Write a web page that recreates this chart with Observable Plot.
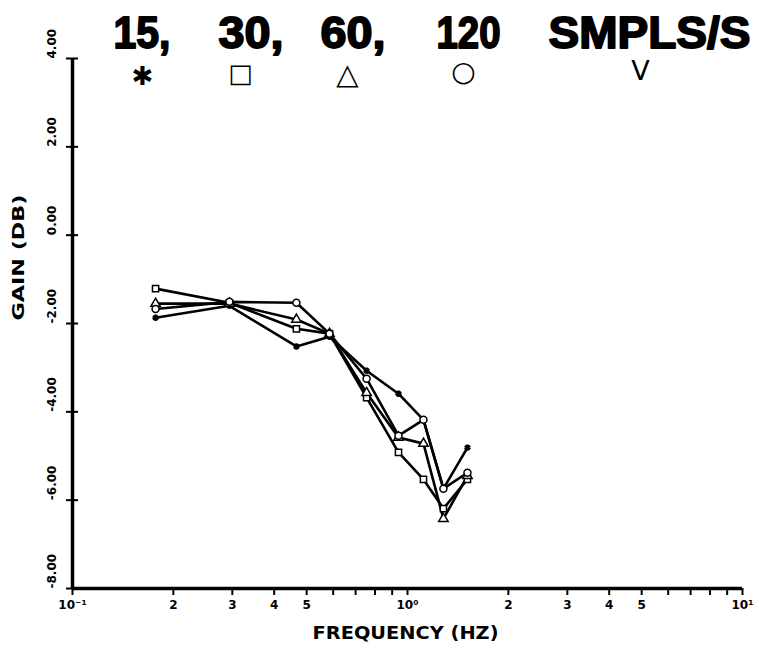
<!DOCTYPE html>
<html><head><meta charset="utf-8">
<script src="https://cdn.jsdelivr.net/npm/d3@7"></script>
<script src="https://cdn.jsdelivr.net/npm/@observablehq/plot@0.6"></script>
<style>body{margin:0;background:#fff}</style>
</head><body><div id="chart"></div>
<script>
// Frequencies (Hz) at which the gain was measured
const freqs = [0.177, 0.294, 0.466, 0.585, 0.755, 0.94, 1.116, 1.28, 1.51];
// Sample rates (samples/s)
const rates = ["15", "30", "60", "120"];
// Gain (dB) per sample rate
const gain15 = [-1.87, -1.60, -2.52, -2.30, -3.07, -3.59, -4.18, -5.74, -4.81];
const gain30 = [-1.21, -1.53, -2.12, -2.23, -3.68, -4.92, -5.53, -6.19, -5.53];
const gain60 = [-1.55, -1.55, -1.91, -2.23, -3.57, -4.58, -4.72, -6.42, -5.45];
const gain120 = [-1.67, -1.51, -1.53, -2.23, -3.25, -4.54, -4.18, -5.74, -5.38];
// Header words and legend glyphs
const titleWords = ["15,", "30,", "60,", "120", "SMPLS/S"];
const legendGlyphs = ["✱", "□", "△", "○", "V"];
// Tick values
const yTicks = [4, 2, 0, -2, -4, -6, -8];
const xTicks = [0.1, 0.2, 0.3, 0.4, 0.5, 0.6, 0.7, 0.8, 0.9, 1, 2, 3, 4, 5, 6, 7, 8, 9, 10];
const xLabel = "FREQUENCY (HZ)";
const yLabel = "GAIN (DB)";

const gains = [gain15, gain30, gain60, gain120];
const markerSymbols = ["asterisk", "square", "triangle", "circle"];
const rows = rates.flatMap((r, i) => freqs.map((f, j) => ({rate: r, freq: f, gain: gains[i][j]})));

const supMap = {"-": "⁻", "0": "⁰", "1": "¹", "2": "²"};
const fmtX = d => {
  const e = Math.round(Math.log10(d));
  if (Math.abs(d - Math.pow(10, e)) < 1e-9) return "10" + String(e).split("").map(c => supMap[c]).join("");
  return String(Math.round(d / Math.pow(10, Math.floor(Math.log10(d) + 1e-9))));
};
const fmtY = d => d.toFixed(2);

const FONT = "'Liberation Sans', Arial, Helvetica, sans-serif";
const HEAVY = "'DejaVu Sans', 'Liberation Sans', sans-serif";
const titleLayout = [[113, 57], [218, 65], [320, 65], [436, 64], [548, 202]];  // left px, width px
const glyphLayout = [[142, 76, 26, "bold"], [240, 73, 26, "normal"], [347, 74, 29, "bold"],
                     [463, 72, 28, "normal"], [640, 71, 27, "normal"]];
const ML = 72, MT = 58;

const marks = [
  Plot.ruleX([0.1], {y1: -8, y2: 4, stroke: "black", strokeWidth: 3.5}),
  Plot.ruleY([-8], {x1: 0.1, x2: 10, stroke: "black", strokeWidth: 3.5}),
  Plot.axisX({ticks: xTicks, tickSize: 7, tickPadding: 5, tickFormat: fmtX, label: null,
              fontSize: 12, fontWeight: "bold", fontFamily: HEAVY, strokeWidth: 2}),
  Plot.axisY({ticks: yTicks, tickSize: 12, dx: 6, tickFormat: () => "", label: null, strokeWidth: 2}),
  Plot.text(yTicks, {y: d => d, text: fmtY, frameAnchor: "left", dx: -20, rotate: -90,
                     fontSize: 12, fontWeight: "bold", fontFamily: HEAVY, fill: "black"}),
  Plot.text([yLabel], {frameAnchor: "left", dx: -54, dy: -3, rotate: -90, fontSize: 16,
                       fontWeight: "bold", fontFamily: HEAVY, fill: "black"}),
  Plot.text([xLabel], {frameAnchor: "bottom", dy: 50, dx: -2, fontSize: 17, fontWeight: "bold",
                       fontFamily: HEAVY, fill: "black"}),
  Plot.line(rows, {x: "freq", y: "gain", z: "rate", stroke: "black", strokeWidth: 2.6}),
  ...rates.map((r, i) => Plot.dot(rows.filter(d => d.rate === r), {
    x: "freq", y: "gain", symbol: () => markerSymbols[i],
    r: i === 0 ? 3 : 3.5, fill: i === 0 ? "black" : "white", stroke: "black",
    strokeWidth: i === 0 ? 2.5 : 1.5
  })),
  ...titleWords.map((w, i) => Plot.text([w], {
    frameAnchor: "top-left", dx: titleLayout[i][0] - ML, dy: 47 - MT, lineAnchor: "bottom",
    textAnchor: "start", fontSize: 44, fontWeight: "bold", fontFamily: FONT,
    fill: "black", stroke: "black", strokeWidth: 1.8
  })),
  ...legendGlyphs.map((g, i) => Plot.text([g], {
    frameAnchor: "top-left", dx: glyphLayout[i][0] - ML, dy: glyphLayout[i][1] - MT,
    lineAnchor: "middle", textAnchor: "middle", fontSize: glyphLayout[i][2],
    fontFamily: HEAVY, fontWeight: glyphLayout[i][3], fill: "black"
  }))
];

const chart = Plot.plot({
  width: 759, height: 652,
  marginLeft: ML, marginRight: 17, marginTop: MT, marginBottom: 64,
  x: {type: "log", domain: [0.1, 10]},
  y: {domain: [-8, 4]},
  symbol: {type: "identity"},
  style: {background: "white", color: "black", fontFamily: FONT, overflow: "visible"},
  marks
});
document.getElementById("chart").appendChild(chart);

// stretch the heavy label texts to the widths seen in the original
const stretch = (txt, len) => d3.select(chart).selectAll("text")
  .filter(function() { return this.textContent === txt; })
  .attr("textLength", len).attr("lengthAdjust", "spacingAndGlyphs");
titleWords.forEach((w, i) => stretch(w, titleLayout[i][1]));
stretch(xLabel, 186);
stretch(yLabel, 126);
</script></body></html>
